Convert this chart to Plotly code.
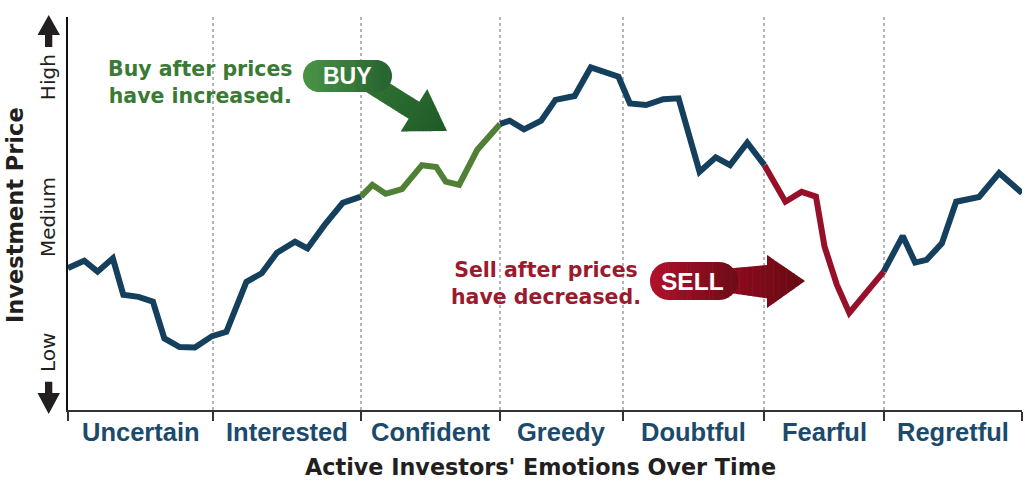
import numpy as np
import plotly.graph_objects as go

# ---------------- data ----------------
categories = ["Uncertain", "Interested", "Confident", "Greedy", "Doubtful", "Fearful", "Regretful"]
boundaries = [0, 15.2, 30.7, 45.3, 58.2, 73.0, 85.5, 100]
phase = ["hold", "hold", "buy", "hold", "hold", "sell", "hold"]

time = [0.0, 1.7, 3.1, 4.7, 5.8, 7.4, 8.9, 10.1, 11.7, 13.3, 15.1, 16.6, 18.7, 20.3, 21.9,
        23.8, 25.1, 26.9, 28.8, 30.7, 31.9, 33.3, 35.0, 37.1, 38.6, 39.6, 41.0, 42.9, 45.3,
        46.3, 47.8, 49.6, 51.1, 53.1, 54.8, 57.7, 58.9, 60.6, 62.4, 64.0, 66.2, 67.9, 69.4,
        71.2, 73.0, 75.2, 76.9, 78.4, 79.3, 80.6, 81.9, 85.5, 87.5, 88.8, 90.0, 91.6, 93.1,
        95.5, 97.6, 100.0]
price = [36.1, 38.0, 35.2, 38.6, 29.3, 28.8, 27.6, 18.2, 16.0, 15.9, 18.8, 19.9, 32.6, 34.8, 40.0,
         42.8, 41.1, 47.1, 52.7, 54.3, 57.3, 55.0, 56.2, 62.3, 61.8, 58.1, 57.3, 66.2, 72.8,
         73.6, 71.4, 73.6, 78.9, 79.9, 87.2, 84.8, 78.0, 77.6, 79.1, 79.3, 60.6, 64.3, 62.3,
         68.0, 62.3, 53.0, 55.5, 54.3, 41.6, 31.8, 24.7, 35.2, 44.3, 37.5, 38.2, 42.4, 53.0,
         54.2, 60.3, 55.2]

level_labels = ["Low", "Medium", "High"]
level_values = [14.5, 49.1, 84.7]

phase_colors = {"hold": "#143f5d", "buy": "#4f8035", "sell": "#97102a"}

# ---------------- figure ----------------
W, H = 1034, 492
L, R, T, B = 68, 12, 17, 82
PW, PH = W - L - R, H - T - B

fig = go.Figure()

# group consecutive categories that share a phase into line segments
segments = []
for i, ph in enumerate(phase):
    if segments and segments[-1][0] == ph:
        segments[-1][2] = boundaries[i + 1]
    else:
        segments.append([ph, boundaries[i], boundaries[i + 1]])

t_arr = np.array(time)
p_arr = np.array(price)
for ph, a, b in segments:
    m = (t_arr >= a - 1e-9) & (t_arr <= b + 1e-9)
    fig.add_trace(go.Scatter(x=t_arr[m], y=p_arr[m], mode="lines",
                             line=dict(color=phase_colors[ph], width=6),
                             hoverinfo="skip", showlegend=False))


def P(x, y):
    return (x - L) / PW, (H - B - y) / PH


def poly(points):
    pts = [P(x, y) for x, y in points]
    return "M " + " L ".join(f"{a:.5f},{b:.5f}" for a, b in pts) + " Z"


def pill_pts(x0, x1, y0, y1, n=28):
    r = (y1 - y0) / 2
    cy = (y0 + y1) / 2
    pts = []
    for th in np.linspace(-np.pi / 2, np.pi / 2, n):
        pts.append((x1 - r + r * np.cos(th), cy + r * np.sin(th)))
    for th in np.linspace(np.pi / 2, 3 * np.pi / 2, n):
        pts.append((x0 + r + r * np.cos(th), cy + r * np.sin(th)))
    return pts


def clip_half(pts, p0, d, sign):
    # keep points where sign*dot(p-p0,d) >= 0  (Sutherland-Hodgman)
    out = []
    n = len(pts)
    f = lambda p: sign * ((p[0] - p0[0]) * d[0] + (p[1] - p0[1]) * d[1])
    for i in range(n):
        a, b = pts[i], pts[(i + 1) % n]
        fa, fb = f(a), f(b)
        if fa >= 0:
            out.append(a)
        if (fa >= 0) != (fb >= 0):
            t = fa / (fa - fb)
            out.append((a[0] + t * (b[0] - a[0]), a[1] + t * (b[1] - a[1])))
    return out


def hex2rgb(h):
    h = h.lstrip("#")
    return [int(h[i:i + 2], 16) for i in (0, 2, 4)]


def gradient_shapes(pts, d, c0, c1, nstrips=28):
    d = np.array(d, float)
    d = d / np.linalg.norm(d)
    proj = [p[0] * d[0] + p[1] * d[1] for p in pts]
    lo, hi = min(proj), max(proj)
    r0, r1 = hex2rgb(c0), hex2rgb(c1)
    out = []
    step = (hi - lo) / nstrips
    for k in range(nstrips):
        a = lo + k * step - (0.6 if k > 0 else 0)
        b = lo + (k + 1) * step
        p_a = (d[0] * a, d[1] * a)
        p_b = (d[0] * b, d[1] * b)
        piece = clip_half(pts, p_a, d, 1)
        piece = clip_half(piece, p_b, d, -1) if piece else []
        if len(piece) < 3:
            continue
        t = (k + 0.5) / nstrips
        col = "rgb(%d,%d,%d)" % tuple(round(r0[i] + (r1[i] - r0[i]) * t) for i in range(3))
        out.append(dict(type="path", xref="paper", yref="paper", path=poly(piece),
                        fillcolor=col, line=dict(width=0)))
    return out


shapes = []
# BUY arrow (diagonal)
tip = np.array([447.0, 131.0])
u = np.array([0.848, 0.532])
u = u / np.linalg.norm(u)
nrm = np.array([-u[1], u[0]])
base = tip - 39 * u
start = base - 55 * u
buy_arrow = [tuple(p) for p in [start + 10 * nrm, base + 10 * nrm, base + 25 * nrm, tip,
                                base - 25 * nrm, base - 10 * nrm, start - 10 * nrm]]
shapes += gradient_shapes(buy_arrow, u, "#2f7433", "#1f5a26")
shapes += gradient_shapes(pill_pts(303, 392, 60, 92), (1, 0), "#4a9446", "#256230")
# SELL arrow
sell_arrow = [(732, 268.3), (767, 265), (767, 255), (805, 281), (767, 308), (767, 298.3), (732, 293.3)]
shapes += gradient_shapes(sell_arrow, (1, 0), "#8e0a1e", "#650a12")
shapes += gradient_shapes(pill_pts(650, 738, 262, 300), (1, 0), "#b3102b", "#6c0c16")
# y-axis direction arrows
up = [(45, 47), (45, 35), (37.5, 35), (48.7, 15), (60, 35), (52.3, 35), (52.3, 47)]
down = [(45, 381.7), (52.3, 381.7), (52.3, 393), (60, 393), (48.7, 414), (37.5, 393), (45, 393)]
for pts in (up, down):
    shapes.append(dict(type="path", xref="paper", yref="paper", path=poly(pts),
                       fillcolor="#231f20", line=dict(width=0)))

LIB = "Liberation Sans, Arial, sans-serif"
DJV = "DejaVu Sans, Liberation Sans, sans-serif"
annotations = []
# category labels
for i, c in enumerate(categories):
    annotations.append(dict(x=(boundaries[i] + boundaries[i + 1]) / 2, xref="x",
                            y=P(0, 432)[1], yref="paper", text=c, showarrow=False,
                            xanchor="center", yanchor="middle",
                            font=dict(family=LIB, size=25.5, color="#1b4a6b", weight="bold")))
# x axis title
annotations.append(dict(x=P(540, 0)[0], y=P(0, 467)[1], xref="paper", yref="paper",
                        text="Active Investors' Emotions Over Time", showarrow=False,
                        xanchor="center", yanchor="middle",
                        font=dict(family=DJV, size=22.3, color="#231f20", weight="bold")))
# y axis title
annotations.append(dict(x=P(15, 0)[0], y=P(0, 215)[1], xref="paper", yref="paper",
                        text="Investment Price", showarrow=False, textangle=-90,
                        xanchor="center", yanchor="middle",
                        font=dict(family=DJV, size=22.5, color="#231f20", weight="bold")))
# level labels
for lab, v in zip(level_labels, level_values):
    annotations.append(dict(x=P(48, 0)[0], xref="paper", y=v, yref="y", text=lab,
                            showarrow=False, textangle=-90, xanchor="center", yanchor="middle",
                            font=dict(family=DJV, size=20, color="#231f20")))
# callouts
annotations.append(dict(x=P(200, 0)[0], y=P(0, 83)[1], xref="paper", yref="paper",
                        text="Buy after prices<br>have increased.", showarrow=False,
                        align="center", xanchor="center", yanchor="middle",
                        font=dict(family=DJV, size=20.5, color="#3b7a35", weight="bold")))
annotations.append(dict(x=P(546, 0)[0], y=P(0, 283)[1], xref="paper", yref="paper",
                        text="Sell after prices<br>have decreased.", showarrow=False,
                        align="center", xanchor="center", yanchor="middle",
                        font=dict(family=DJV, size=20.5, color="#9b1b2e", weight="bold")))
annotations.append(dict(x=P(347, 0)[0], y=P(0, 76)[1], xref="paper", yref="paper",
                        text="BUY", showarrow=False, xanchor="center", yanchor="middle",
                        font=dict(family=LIB, size=23, color="white", weight="bold")))
annotations.append(dict(x=P(692, 0)[0], y=P(0, 281)[1], xref="paper", yref="paper",
                        text="SELL", showarrow=False, xanchor="center", yanchor="middle",
                        font=dict(family=LIB, size=24.5, color="white", weight="bold")))

fig.update_layout(
    width=W, height=H,
    margin=dict(l=L, r=R, t=T, b=B, pad=0),
    paper_bgcolor="white", plot_bgcolor="white",
    showlegend=False,
    shapes=shapes, annotations=annotations,
    xaxis=dict(range=[0, 100], showline=True, linecolor="#333333", linewidth=2,
               tickvals=boundaries, showticklabels=False, ticks="outside", ticklen=9,
               tickcolor="#333333", tickwidth=1.5,
               showgrid=True, gridcolor="#b5b5b5", gridwidth=1.5, griddash="dot",
               zeroline=False, fixedrange=True),
    yaxis=dict(range=[0, 100], showline=True, linecolor="#111111", linewidth=2,
               showticklabels=False, ticks="", showgrid=False, zeroline=False,
               fixedrange=True),
)

fig.write_html("out.html", config={"displayModeBar": False},
               post_script="document.body.style.margin='0';")
